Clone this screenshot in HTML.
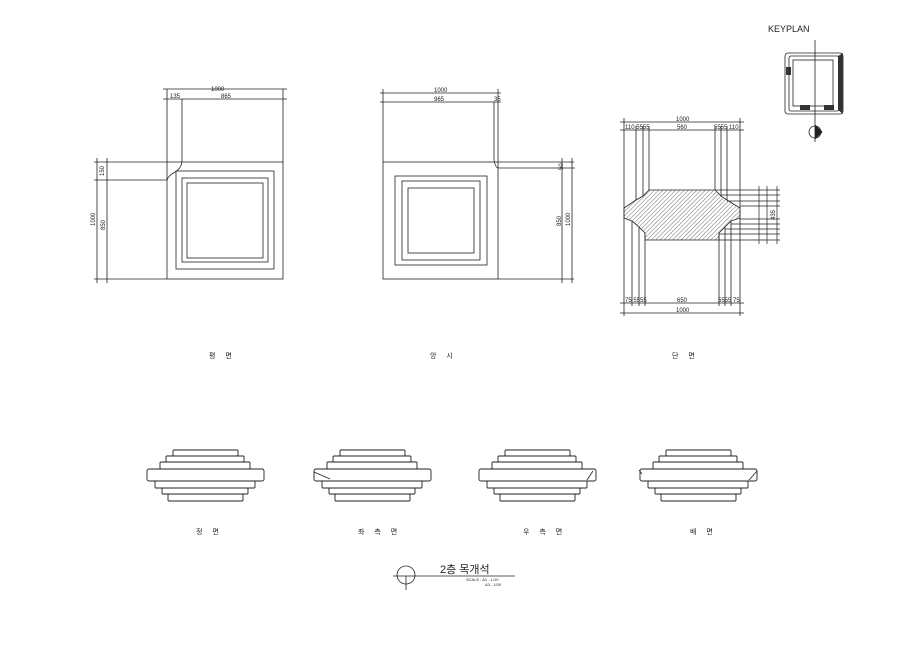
<!DOCTYPE html>
<html><head><meta charset="utf-8"><style>
html,body{margin:0;padding:0;background:#fff;width:920px;height:650px;overflow:hidden}
svg{display:block}
text{font-family:"Liberation Sans","Noto Sans CJK KR",sans-serif;fill:#222}
</style></head><body>
<svg width="920" height="650" viewBox="0 0 920 650" xmlns="http://www.w3.org/2000/svg">
<defs>
<pattern id="h" width="3" height="3" patternUnits="userSpaceOnUse" patternTransform="rotate(45)">
<line x1="0" y1="0" x2="0" y2="3" stroke="#333" stroke-width="0.7"/></pattern>
<g id="st" fill="#fff" stroke="#222" stroke-width="0.9">
<rect x="-32" y="450" width="65" height="6" rx="1"/>
<rect x="-39" y="456" width="78" height="6" rx="1"/>
<rect x="-45" y="462" width="90" height="7" rx="1"/>
<rect x="-50" y="481" width="100" height="7" rx="1"/>
<rect x="-43" y="488" width="86" height="6" rx="1"/>
<rect x="-37" y="494" width="75" height="7" rx="1"/>
<rect x="-58" y="469" width="117" height="12" rx="2"/>
</g>
</defs>
<g fill="none" stroke="#222" stroke-width="0.8">
<!-- plan -->
<rect x="167" y="162" width="116" height="117"/>
<rect x="176" y="171" width="98" height="98"/>
<rect x="182" y="178" width="86" height="84"/>
<rect x="187" y="183" width="76" height="75"/>
<path d="M167 89V162M283 89V162M182 99V160Q182 168 175 172Q168 176 167 180H107M163 89H287M163 99H287M97 162H167M94 279H167M97 158V283M107 158V283M94 162H110M94 180H110M94 279H110"/>
<!-- elevation -->
<rect x="383" y="162" width="115" height="117"/>
<rect x="395" y="176" width="92" height="89"/>
<rect x="402" y="181" width="78" height="79"/>
<rect x="408" y="188" width="66" height="65"/>
<path d="M383 89V162M498 89V162M494 102V160Q495 167 498 168H562M380 93H501M380 102H501M498 162H574M498 279H574M562 158V283M572 158V283M559 168H575"/>
<!-- section -->
<path d="M624 118V316M740 118V316M620 122H744M620 130H744M620 303H744M620 313H744"/>
<path d="M636 126V200M643 126V196M649 126V190M715 126V190M721 126V196M727 126V200M632 221V306M639 227V306M645 233V306M719 233V306M725 227V306M731 221V306"/>
<polygon points="649,190 715,190 721,196 727,200 740,208 740,218 731,221 725,227 719,233 719,240 645,240 645,233 639,227 632,221 624,218 624,208 636,200 643,196" fill="url(#h)"/>
<path d="M715 190H780M721 195H780M727 201H780M740 206H780M740 219H780M731 224H780M725 229H780M719 234H780M719 240H780M759 186V244M767 186V244M777 186V244" stroke-width="0.7"/>
<!-- keyplan -->
<rect x="785" y="53" width="58" height="61" rx="3"/>
<rect x="789" y="56" width="50" height="55" rx="2"/>
<rect x="793" y="60" width="40" height="46"/>
<path d="M815 40V142"/>
<circle cx="815" cy="132" r="6"/>
<path d="M815 125L822 132L815 139" fill="#222"/>
</g>
<g fill="#333">
<polygon points="838,56 843,53 843,114 838,110"/>
<rect x="786" y="67" width="5" height="8"/>
<rect x="800" y="105" width="10" height="5"/>
<rect x="824" y="105" width="10" height="5"/>
</g>
<!-- small elevations -->
<use href="#st" x="205"/>
<use href="#st" x="372"/>
<use href="#st" x="537"/>
<use href="#st" x="698"/>
<path d="M314 472L330 479M593 471L587 480M639 470L642 474M757 471L749 480" stroke="#222" stroke-width="0.8" fill="none"/>
<!-- title -->
<circle cx="406" cy="575" r="9" fill="none" stroke="#222" stroke-width="0.8"/>
<path d="M393 576H515M406 576V590" stroke="#222" stroke-width="0.8"/>
<g font-size="6">
<text x="211" y="91">1000</text><text x="170" y="98">135</text><text x="221" y="98">865</text>
<text x="104" y="176" transform="rotate(-90 104 176)">150</text>
<text x="95" y="226" transform="rotate(-90 95 226)">1000</text>
<text x="105" y="230" transform="rotate(-90 105 230)">850</text>
<text x="434" y="92">1000</text><text x="434" y="101">965</text><text x="494" y="101">35</text>
<text x="563" y="170" transform="rotate(-90 563 170)">50</text>
<text x="561" y="226" transform="rotate(-90 561 226)">850</text>
<text x="570" y="226" transform="rotate(-90 570 226)">1000</text>
<text x="676" y="121">1000</text><text x="625" y="129">110 5555</text><text x="677" y="129">560</text><text x="714" y="129">5555 110</text>
<text x="625" y="302">75 5555</text><text x="677" y="302">650</text><text x="718" y="302">5555 75</text>
<text x="676" y="312">1000</text>
<text x="775" y="220" transform="rotate(-90 775 220)">435</text>
</g>
<g font-size="7" fill="#444">
<text x="209" y="358" letter-spacing="4">평 면</text>
<text x="430" y="358" letter-spacing="4">앙 시</text>
<text x="672" y="358" letter-spacing="4">단 면</text>
<text x="196" y="534" letter-spacing="4">정 면</text>
<text x="358" y="534" letter-spacing="4">좌 측 면</text>
<text x="523" y="534" letter-spacing="4">우 측 면</text>
<text x="690" y="534" letter-spacing="4">배 면</text>
</g>
<text x="768" y="32" font-size="9">KEYPLAN</text>
<text x="440" y="573" font-size="11">2층 목개석</text>
<text x="466" y="581" font-size="4">SCALE : A1 - 1/10</text>
<text x="485" y="586" font-size="4">A3 - 1/20</text>
</svg>
</body></html>
